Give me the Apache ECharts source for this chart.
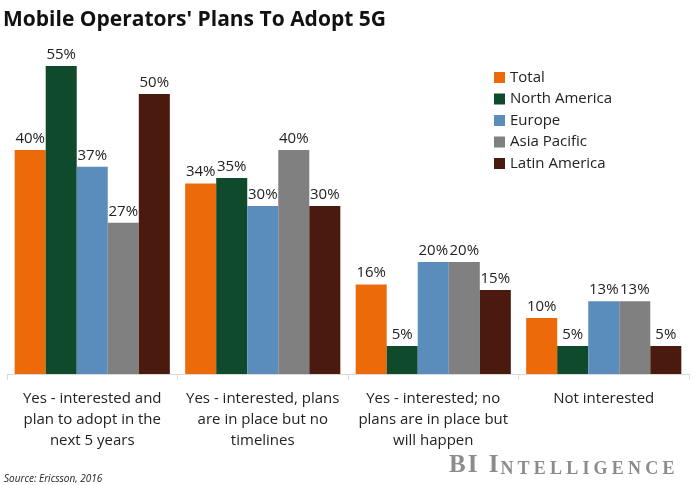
<!DOCTYPE html>
<html><head><meta charset="utf-8">
<script src="https://cdn.jsdelivr.net/npm/echarts@6/dist/echarts.min.js"></script>
<style>html,body{margin:0;padding:0;background:#fff}#c{width:700px;height:485px}</style>
</head><body><div id="c"></div>
<script>
const categories = [
  "Yes - interested and\nplan to adopt in the\nnext 5 years",
  "Yes - interested, plans\nare in place but no\ntimelines",
  "Yes - interested; no\nplans are in place but\nwill happen",
  "Not interested"
];
const seriesNames = ["Total", "North America", "Europe", "Asia Pacific", "Latin America"];
const total = [40, 34, 16, 10];
const northAmerica = [55, 35, 5, 5];
const europe = [37, 30, 20, 13];
const asiaPacific = [27, 40, 20, 13];
const latinAmerica = [50, 30, 15, 5];
const colors = ["#EC6A0A", "#0E4A2B", "#5B8DBC", "#808080", "#4A1A0F"];

const values = [total, northAmerica, europe, asiaPacific, latinAmerica];
const chart = echarts.init(document.getElementById('c'), null, {renderer: 'canvas'});
const FONT = "Open Sans";

// logo text as rich segments with extra spacing between letters
const logoBig = "BI I";
const logoSmall = "NTELLIGENCE";
let logo = "";
for (const ch of logoBig) logo += ch === " " ? "{s| }" : "{a|" + ch + "}";
for (const ch of logoSmall) logo += "{b|" + ch + "}";

chart.setOption({
  animation: false,
  backgroundColor: '#fff',
  title: [{
    text: "Mobile Operators' Plans To Adopt 5G",
    left: 3, top: 10, padding: 0,
    textStyle: {fontFamily: FONT, fontWeight: 'bold', fontSize: 21, color: '#111'}
  }, {
    text: "Source: Ericsson, 2016",
    left: 4, top: 474, padding: 0,
    textStyle: {fontFamily: FONT, fontStyle: 'italic', fontWeight: 'normal', fontSize: 10, color: '#222'}
  }, {
    text: logo,
    left: 449, top: 453, padding: 0,
    textStyle: {rich: {
      a: {fontFamily: "Liberation Serif", fontSize: 25, color: '#8c8c8c', padding: [0, 2, 0, 0]},
      s: {fontFamily: "Liberation Serif", fontSize: 25, color: '#8c8c8c', padding: [0, 3, 0, 0]},
      b: {fontFamily: "Liberation Serif", fontSize: 18, color: '#8c8c8c', padding: [0, 4.2, 0, 0], verticalAlign: 'bottom'}
    }}
  }],
  legend: {
    orient: 'vertical', left: 489, top: 65,
    itemWidth: 11, itemHeight: 11, itemGap: 6.5,
    icon: 'rect',
    textStyle: {fontFamily: FONT, fontSize: 15, color: '#222'},
    data: seriesNames
  },
  grid: {left: 7, right: 11, top: 38, bottom: 111, containLabel: false},
  xAxis: {
    type: 'category', data: categories,
    axisLine: {lineStyle: {color: '#d9d9d9'}},
    axisTick: {show: true, length: 6, lineStyle: {color: '#d9d9d9'}},
    axisLabel: {fontFamily: FONT, fontSize: 15, color: '#222', lineHeight: 21, margin: 14, interval: 0}
  },
  yAxis: {type: 'value', min: 0, max: 60, show: false, splitLine: {show: false}},
  series: seriesNames.map((n, i) => ({
    name: n, type: 'bar', data: values[i],
    barGap: '0%', barCategoryGap: '9%',
    itemStyle: {color: colors[i]},
    label: {show: true, position: 'top', distance: 4, formatter: '{c}%',
      fontFamily: FONT, fontSize: 15, color: '#222'}
  }))
});
</script></body></html>
